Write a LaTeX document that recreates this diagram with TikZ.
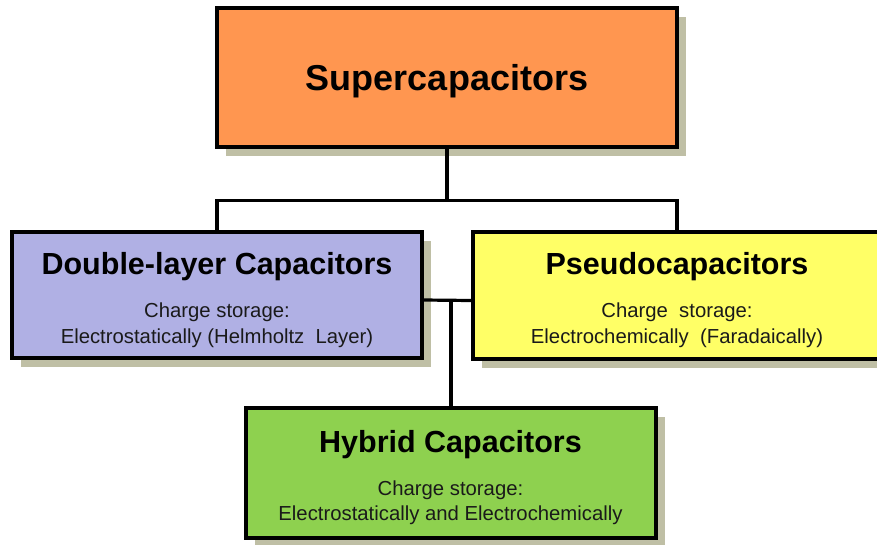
\documentclass[tikz,border=0pt]{standalone}
\usepackage{fontspec}
\setmainfont{Liberation Sans}
\usetikzlibrary{shadows}
\definecolor{orangebox}{HTML}{FF9650}
\definecolor{lavbox}{HTML}{B0B0E4}
\definecolor{yelbox}{HTML}{FFFF66}
\definecolor{grnbox}{HTML}{8ED14F}
\definecolor{shadowc}{HTML}{BFBFA5}
\definecolor{smalltext}{HTML}{1A1A1A}
\tikzset{
  boxstyle/.style={draw=black, line width=3.2pt, rectangle, inner sep=0pt,
    drop shadow={shadow xshift=9pt, shadow yshift=-9pt, fill=shadowc, opacity=1}},
  bigtitle/.style={anchor=base, inner sep=0pt, font=\fontsize{36}{40}\selectfont\bfseries},
  subtitle/.style={anchor=base, inner sep=0pt, font=\fontsize{30.5}{34}\selectfont\bfseries},
  smalltxt/.style={anchor=base, inner sep=0pt, text=smalltext, font=\fontsize{20.3}{24}\selectfont},
  conn/.style={draw=black, line width=3.2pt}
}
\begin{document}
\begin{tikzpicture}[x=1pt,y=-1pt]
\useasboundingbox (0,0) rectangle (877,544);
\clip (0,0) rectangle (877,544);
% boxes
\node[boxstyle, fill=orangebox, minimum width=460pt, minimum height=139pt] (top) at (447,77.5) {};
\node[boxstyle, fill=lavbox, minimum width=410pt, minimum height=126pt] (left) at (217,295) {};
\node[boxstyle, fill=yelbox, minimum width=408pt, minimum height=127pt] (right) at (677,295.5) {};
\node[boxstyle, fill=grnbox, minimum width=410pt, minimum height=130pt] (hybrid) at (451,473) {};
% connectors
\draw[conn] (top.south) -- ++(0,52) coordinate (j1);
\draw[conn] (left.north) |- (j1) -| (right.north);
\draw[conn] ([yshift=-5pt]left.east) -- ([yshift=-5pt]right.west) coordinate (j2);
\coordinate (j3) at ([yshift=-5pt]left.east);
\draw[conn] (hybrid.north) -- (hybrid.north |- j3);
% texts
\node[bigtitle] (t1) at (447,90) {Supercapacitors};
\node[subtitle] (t2) at (217,274) {Double-layer Capacitors};
\node[smalltxt] (t2a) at (217,317) {Charge storage:};
\node[smalltxt] (t2b) at (217,343) {Electrostatically (Helmholtz\ \ Layer)};
\node[subtitle] (t3) at (677,274) {Pseudocapacitors};
\node[smalltxt] (t3a) at (677,317) {Charge\ \ storage:};
\node[smalltxt] (t3b) at (677,343) {Electrochemically\ \ (Faradaically)};
\node[subtitle] (t4) at (450.5,452) {Hybrid Capacitors};
\node[smalltxt] (t4a) at (450.5,495) {Charge storage:};
\node[smalltxt] (t4b) at (450.5,520) {Electrostatically and Electrochemically};
\end{tikzpicture}
\end{document}
